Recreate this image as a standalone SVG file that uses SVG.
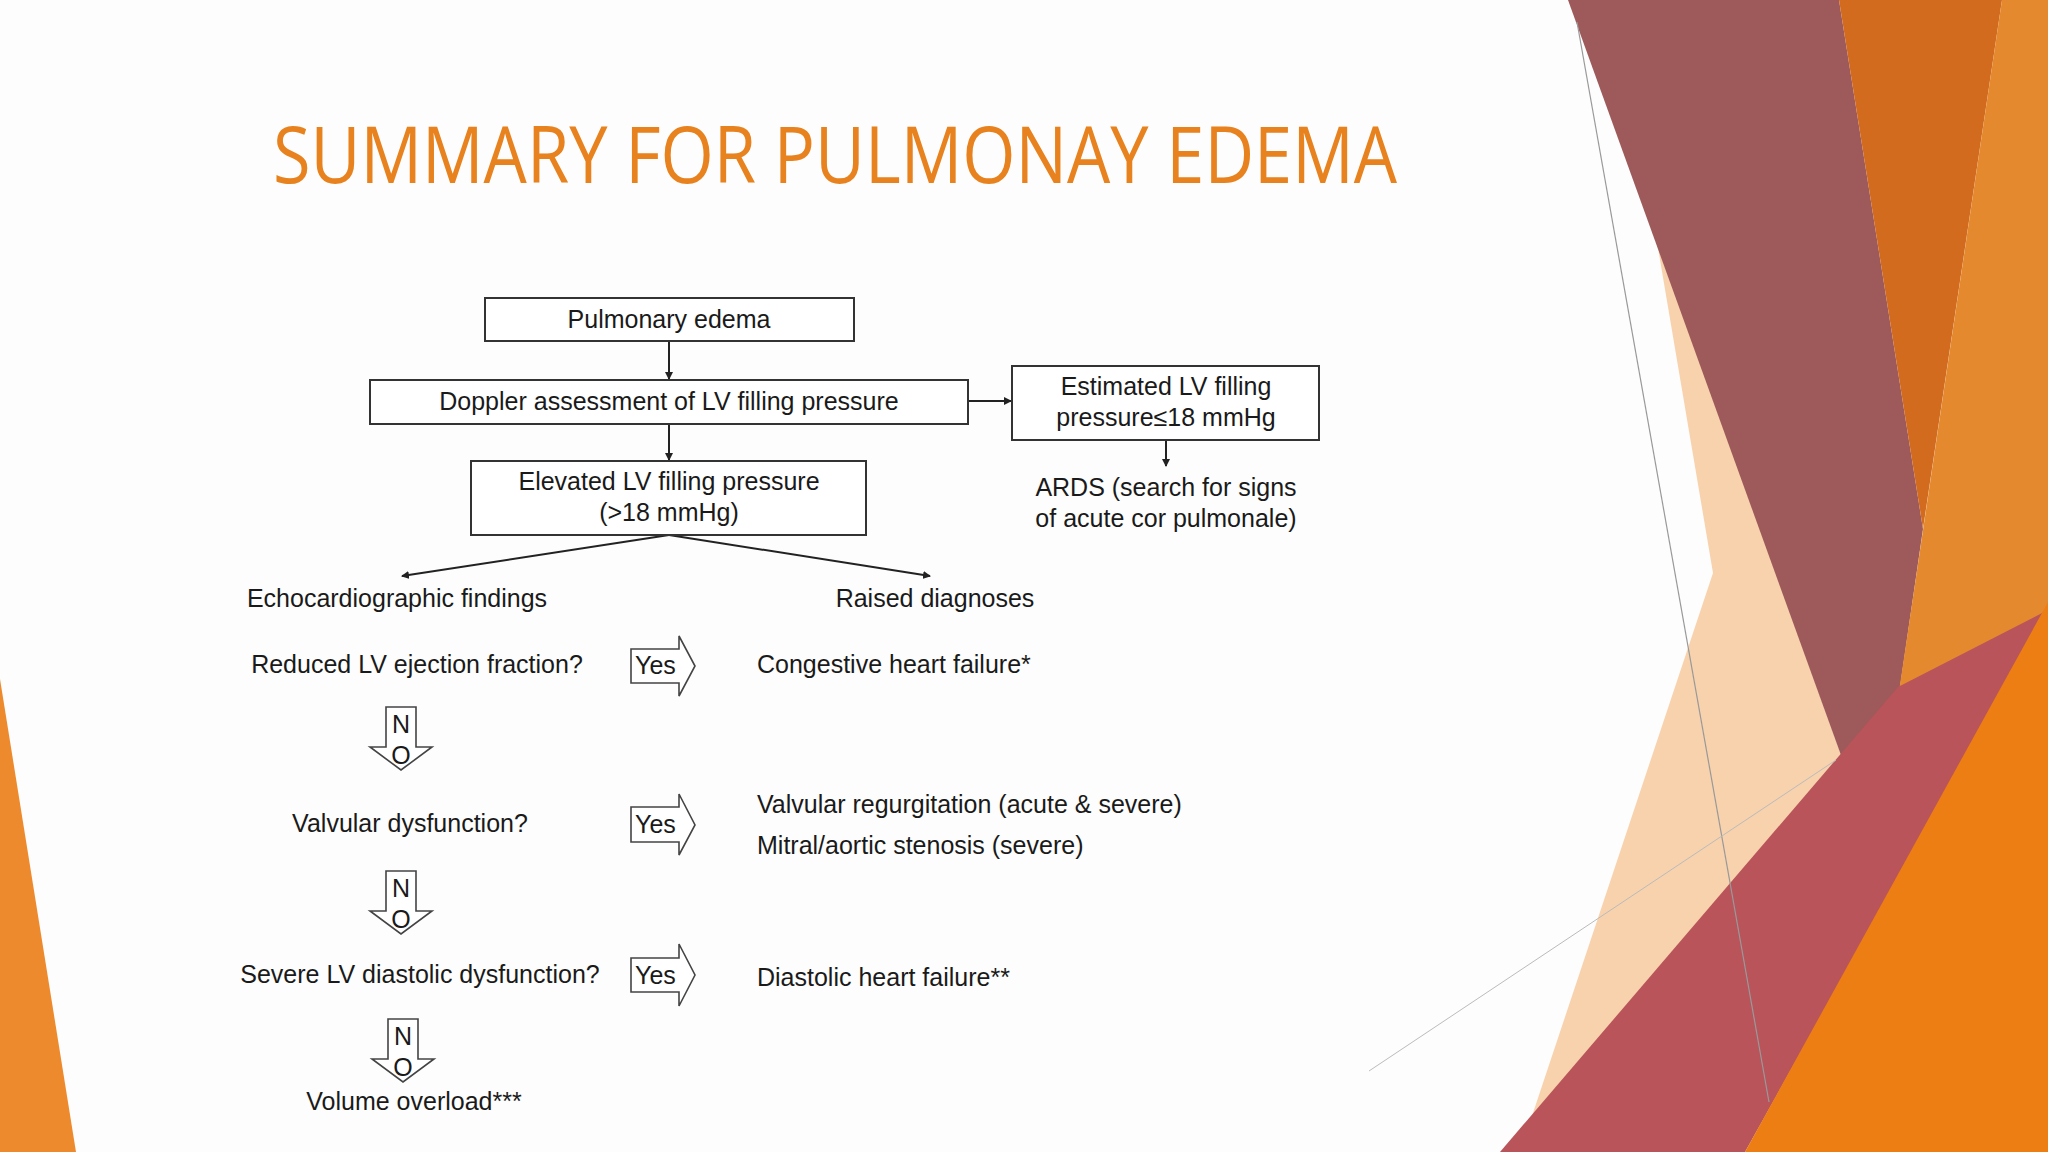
<svg xmlns="http://www.w3.org/2000/svg" width="2048" height="1152" viewBox="0 0 2048 1152">
<style>
.t{font-family:"Liberation Sans",Arial,sans-serif;font-size:25px;fill:#1a1a1a}
.m{text-anchor:middle}
.b{fill:#fff;stroke:#333;stroke-width:2}
.c{stroke:#222;stroke-width:2;fill:none}
.ba{fill:#fff;stroke:#444;stroke-width:1.6}
</style>
<defs>
<marker id="ah" markerWidth="8" markerHeight="8" refX="7" refY="4" orient="auto" markerUnits="userSpaceOnUse"><path d="M0,0 L8,4 L0,8 z" fill="#222"/></marker>
</defs>
<rect width="2048" height="1152" fill="#fdfdfd"/>
<g id="bg">
<polygon points="1657,242 1876,852 1560,1152 1520,1152 1713,573" fill="#f7d2ad"/>
<polygon points="1568,0 1839,0 1923,529 1876,852" fill="#9e5a5a"/>
<polygon points="1839,0 2002,0 1923,529" fill="#d26b1e"/>
<polygon points="2002,0 2048,0 2048,620 1863,933" fill="#e5892e"/>
<polygon points="1500,1152 1898,687 2048,610 1745,1152" fill="#b8545a"/>
<polygon points="1745,1152 2048,602 2048,1152" fill="#ec7e14"/>
<line x1="1577" y1="22" x2="1769" y2="1102" stroke="#999" stroke-width="1.2"/>
<line x1="1369" y1="1071" x2="1836" y2="760" stroke="#bbb" stroke-width="1"/>
<polygon points="0,679 76,1152 0,1152" fill="#ee8a2e"/>
</g>
<text x="273" y="183" font-family="Open Sans, 'Noto Sans', sans-serif" font-size="78" fill="#e8821e" textLength="1124" lengthAdjust="spacingAndGlyphs">SUMMARY FOR PULMONAY EDEMA</text>
<g id="connectors">
<line class="c" x1="669" y1="341" x2="669" y2="379" marker-end="url(#ah)"/>
<line class="c" x1="669" y1="424" x2="669" y2="460" marker-end="url(#ah)"/>
<line class="c" x1="968" y1="401" x2="1011" y2="401" marker-end="url(#ah)"/>
<line class="c" x1="1166" y1="440" x2="1166" y2="466" marker-end="url(#ah)"/>
<line class="c" x1="669" y1="535" x2="402" y2="576" marker-end="url(#ah)"/>
<line class="c" x1="669" y1="535" x2="930" y2="576" marker-end="url(#ah)"/>
</g>
<g id="n1"><rect class="b" x="485" y="298" width="369" height="43"/><text class="t m" x="669" y="328">Pulmonary edema</text></g>
<g id="n2"><rect class="b" x="370" y="380" width="598" height="44"/><text class="t m" x="669" y="410">Doppler assessment of LV filling pressure</text></g>
<g id="n3"><rect class="b" x="1012" y="366" width="307" height="74"/><text class="t m" x="1166" y="395">Estimated LV filling</text><text class="t m" x="1166" y="426">pressure≤18 mmHg</text></g>
<g id="n4"><text class="t m" x="1166" y="496">ARDS (search for signs</text><text class="t m" x="1166" y="527">of acute cor pulmonale)</text></g>
<g id="n5"><rect class="b" x="471" y="461" width="395" height="74"/><text class="t m" x="669" y="490">Elevated LV filling pressure</text><text class="t m" x="669" y="521">(&gt;18 mmHg)</text></g>
<g id="n6"><text class="t m" x="397" y="607">Echocardiographic findings</text></g>
<g id="n7"><text class="t m" x="935" y="607">Raised diagnoses</text></g>
<g id="q1"><text class="t m" x="417" y="673">Reduced LV ejection fraction?</text></g>
<g id="y1"><polygon class="ba" points="631,649 679,649 679,636 695,666 679,696 679,683 631,683"/><text class="t" x="635" y="674">Yes</text></g>
<g id="d1"><text class="t" x="757" y="673">Congestive heart failure*</text></g>
<g id="no1"><polygon class="ba" points="386,707 416,707 416,747 432,747 401,770 370,747 386,747"/><text class="t m" x="401" y="733">N</text><text class="t m" x="401" y="764">O</text></g>
<g id="q2"><text class="t m" x="410" y="832">Valvular dysfunction?</text></g>
<g id="y2"><polygon class="ba" points="631,807 679,807 679,794 695,825 679,855 679,842 631,842"/><text class="t" x="635" y="833">Yes</text></g>
<g id="d2"><text class="t" x="757" y="813">Valvular regurgitation (acute &amp; severe)</text><text class="t" x="757" y="854">Mitral/aortic stenosis (severe)</text></g>
<g id="no2"><polygon class="ba" points="386,871 416,871 416,911 432,911 401,934 370,911 386,911"/><text class="t m" x="401" y="897">N</text><text class="t m" x="401" y="928">O</text></g>
<g id="q3"><text class="t m" x="420" y="983">Severe LV diastolic dysfunction?</text></g>
<g id="y3"><polygon class="ba" points="631,958 679,958 679,944 695,975 679,1006 679,992 631,992"/><text class="t" x="635" y="984">Yes</text></g>
<g id="d3"><text class="t" x="757" y="986">Diastolic heart failure**</text></g>
<g id="no3"><polygon class="ba" points="388,1019 418,1019 418,1059 434,1059 403,1082 372,1059 388,1059"/><text class="t m" x="403" y="1045">N</text><text class="t m" x="403" y="1076">O</text></g>
<g id="v"><text class="t m" x="414" y="1110">Volume overload***</text></g>
</svg>
